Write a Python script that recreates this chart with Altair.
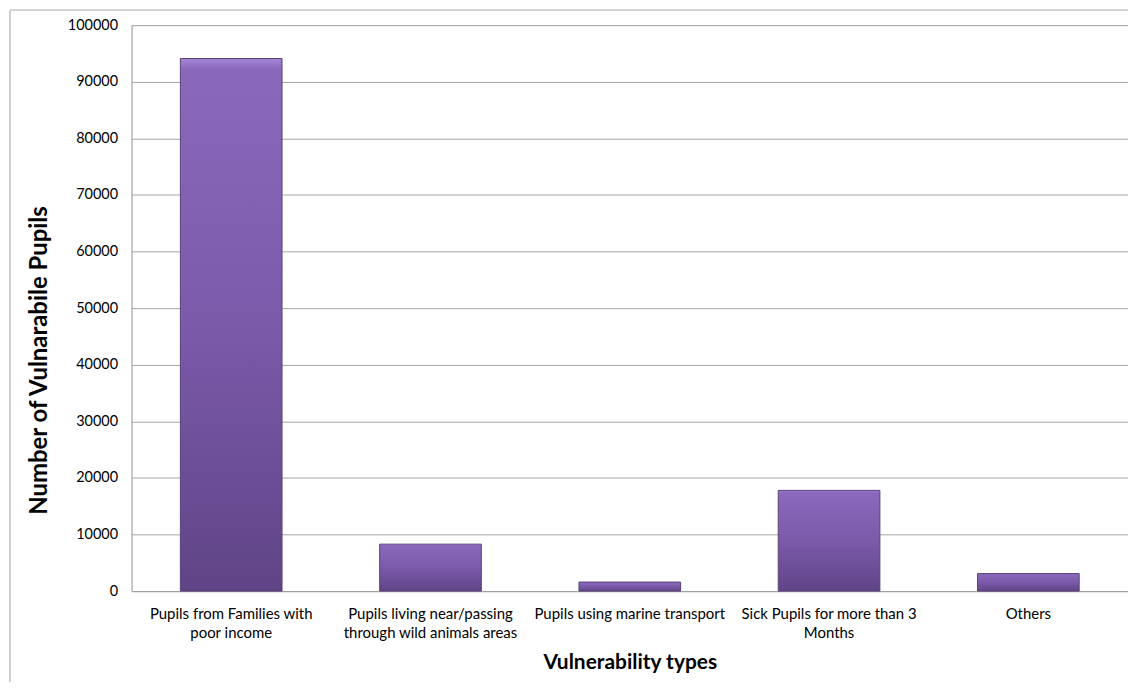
import altair as alt
import pandas as pd

categories = [
    "Pupils from Families with\npoor income",
    "Pupils living near/passing\nthrough wild animals areas",
    "Pupils using marine transport",
    "Sick Pupils for more than 3\nMonths",
    "Others",
]
values = [94100, 8300, 1600, 17800, 3100]
y_ticks = [0, 10000, 20000, 30000, 40000, 50000, 60000, 70000, 80000, 90000, 100000]

df = pd.DataFrame({"cat": categories, "val": values})

FONT = "Lato"
W, H = 1000, 568

grad = alt.Gradient(
    gradient="linear",
    stops=[
        alt.GradientStop(color="#a488d6", offset=0),
        alt.GradientStop(color="#8a68bc", offset=0.02),
        alt.GradientStop(color="#7b5aaa", offset=0.5),
        alt.GradientStop(color="#5f4486", offset=1),
    ],
    x1=0, x2=0, y1=0, y2=1,
)

bars = alt.Chart(df).mark_bar(fill=grad, stroke="#574078", strokeWidth=1).encode(
    x=alt.X(
        "cat:N",
        sort=None,
        title="Vulnerability types",
        scale=alt.Scale(paddingInner=0.49, paddingOuter=0.245),
        axis=alt.Axis(
            labelAngle=0,
            labelExpr="split(datum.label, '\\n')",
            labelFont=FONT,
            labelFontSize=15,
            labelColor="#000000",
            labelPadding=15,
            labelLineHeight=20,
            labelLimit=400,
            ticks=False,
            domainColor="#a0a0a0",
            titleFont=FONT,
            titleFontSize=21,
            titleFontWeight="bold",
            titleColor="#000000",
            titlePadding=11,
        ),
    ),
    y=alt.Y(
        "val:Q",
        title="Number of Vulnarabile Pupils",
        scale=alt.Scale(domain=[0, 100000], nice=False),
        axis=alt.Axis(
            values=y_ticks,
            format="d",
            labelFont=FONT,
            labelFontSize=14.5,
            labelColor="#000000",
            labelPadding=14,
            ticks=False,
            domainColor="#a0a0a0",
            gridColor="#a6a6a6",
            gridWidth=1,
            titleFont=FONT,
            titleFontSize=24,
            titleFontWeight="bold",
            titleColor="#000000",
            titleAngle=-90,
            titleX=-92,
            titleY=336,
            titleAlign="center",
            titleBaseline="middle",
        ),
    ),
)

frame_left = alt.Chart(df).mark_rule(color="#d0d0d0", strokeWidth=1).encode(
    x=alt.value(-122), y=alt.value(-15), y2=alt.value(H + 110)
)
frame_top = alt.Chart(df).mark_rule(color="#d0d0d0", strokeWidth=1).encode(
    x=alt.value(-122), x2=alt.value(W + 10), y=alt.value(-15)
)

chart = (
    alt.layer(frame_left, frame_top, bars)
    .properties(
        width=W,
        height=H,
        autosize=alt.AutoSizeParams(type="none"),
        padding={"left": 124, "top": 16, "right": 0, "bottom": 90},
    )
    .configure_view(stroke=None)
    .configure(background="#ffffff")
)

chart.save("out.html", embed_options={"renderer": "svg", "actions": False})
